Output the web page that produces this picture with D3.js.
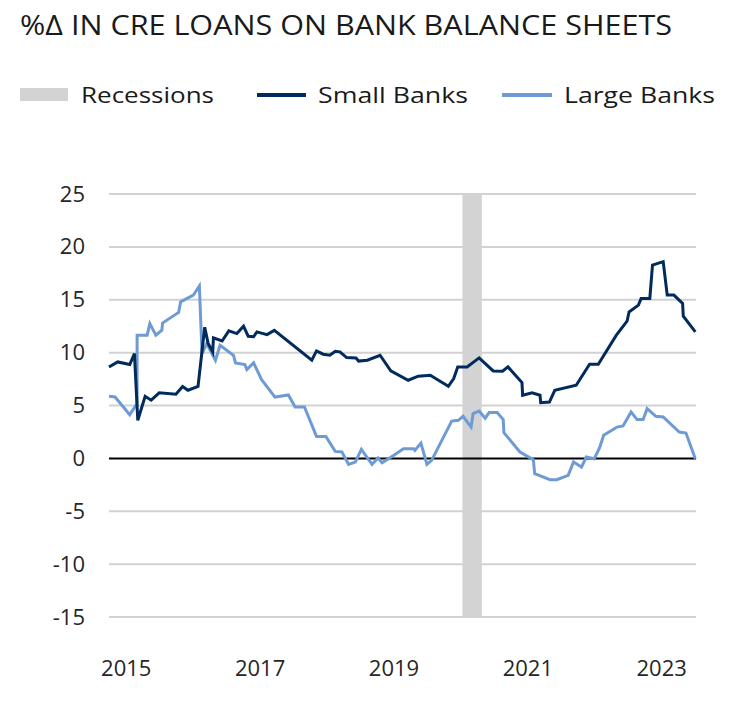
<!DOCTYPE html>
<html>
<head>
<meta charset="utf-8">
<script src="https://cdn.jsdelivr.net/npm/d3@7"></script>
<style>
  body { margin: 0; background: #fff; }
  svg { display: block; font-family: "Open Sans", "DejaVu Sans", sans-serif; }
</style>
</head>
<body>
<div id="chart"></div>
<script>
// year over year % change (decimal years)
var smallDates = [2014.75, 2014.88, 2015.06, 2015.13, 2015.18, 2015.29, 2015.38, 2015.50, 2015.75, 2015.85,
  2015.93, 2016.08, 2016.18, 2016.23, 2016.30, 2016.31, 2016.44, 2016.54, 2016.66, 2016.76,
  2016.83, 2016.91, 2016.96, 2017.11, 2017.22, 2017.78, 2017.85, 2017.95, 2018.05, 2018.13,
  2018.20, 2018.30, 2018.44, 2018.48, 2018.61, 2018.80, 2018.96, 2019.22, 2019.37, 2019.55,
  2019.82, 2019.90, 2019.96, 2020.10, 2020.28, 2020.49, 2020.63, 2020.71, 2020.92, 2020.93,
  2021.07, 2021.19, 2021.20, 2021.33, 2021.41, 2021.73, 2021.93, 2022.06, 2022.33, 2022.49,
  2022.52, 2022.66, 2022.70, 2022.83, 2022.87, 2023.03, 2023.09, 2023.19, 2023.32, 2023.33,
  2023.51];
var smallValues = [8.64, 9.12, 8.87, 9.9, 3.6, 5.87, 5.5, 6.2, 6.06, 6.8,
  6.44, 6.8, 12.4, 10.9, 10.07, 11.4, 11.1, 12.06, 11.8, 12.5,
  11.55, 11.5, 11.96, 11.7, 12.1, 9.28, 10.16, 9.85, 9.75, 10.13,
  10.07, 9.53, 9.5, 9.2, 9.28, 9.75, 8.27, 7.39, 7.77, 7.86,
  6.82, 7.55, 8.65, 8.65, 9.5, 8.27, 8.24, 8.65, 7.17, 5.97,
  6.19, 5.97, 5.27, 5.33, 6.44, 6.91, 8.9, 8.9, 11.65, 12.97,
  13.85, 14.49, 15.12, 15.12, 18.28, 18.6, 15.44, 15.44, 14.65, 13.45,
  11.96];

var largeDates = [2014.75, 2014.84, 2015.06, 2015.17, 2015.17, 2015.32, 2015.36, 2015.45, 2015.54, 2015.55,
  2015.79, 2015.82, 2016.01, 2016.10, 2016.14, 2016.21, 2016.34, 2016.41, 2016.61, 2016.64,
  2016.78, 2016.81, 2016.91, 2017.03, 2017.23, 2017.43, 2017.53, 2017.67, 2017.85, 2017.99,
  2018.13, 2018.23, 2018.33, 2018.43, 2018.52, 2018.68, 2018.77, 2018.83, 2019.00, 2019.15,
  2019.30, 2019.32, 2019.41, 2019.50, 2019.57, 2019.87, 2019.97, 2020.04, 2020.16, 2020.19,
  2020.28, 2020.37, 2020.43, 2020.55, 2020.64, 2020.65, 2020.89, 2021.09, 2021.11, 2021.34,
  2021.44, 2021.61, 2021.69, 2021.81, 2021.88, 2022.00, 2022.08, 2022.14, 2022.34, 2022.43,
  2022.55, 2022.64, 2022.73, 2022.79, 2022.92, 2023.03, 2023.27, 2023.37, 2023.51];
var largeValues = [5.87, 5.8, 4.13, 5.18, 11.65, 11.65, 12.75, 11.65, 12.12, 12.8,
  13.8, 14.8, 15.43, 16.3, 9.9, 10.86, 9.28, 10.7, 9.75, 9.03,
  8.87, 8.4, 9.03, 7.45, 5.8, 6.0, 4.86, 4.86, 2.08, 2.08,
  0.66, 0.6, -0.57, -0.35, 0.85, -0.57, 0.03, -0.41, 0.28, 0.92,
  0.92, 0.76, 1.45, -0.57, -0.19, 3.53, 3.6, 3.98, 2.96, 4.23,
  4.48, 3.8, 4.33, 4.33, 3.67, 2.43, 0.6, -0.12, -1.45, -2.02,
  -2.02, -1.61, -0.35, -0.82, 0.13, -0.03, 1.01, 2.18, 2.96, 3.06,
  4.39, 3.67, 3.67, 4.7, 3.98, 3.91, 2.49, 2.4, -0.03];

var recessions = [[2020.03, 2020.32]];
var yTicks = [-15, -10, -5, 0, 5, 10, 15, 20, 25];
var xTicks = [2015, 2017, 2019, 2021, 2023];

var width = 742, height = 706;
var svg = d3.select("#chart").append("svg")
  .attr("width", width)
  .attr("height", height);

var x = d3.scaleLinear().domain([2014.75, 2023.52]).range([109, 696]);
var y = d3.scaleLinear().domain([-15, 25]).range([617, 194]);

// title
svg.append("text")
  .attr("x", 20).attr("y", 35)
  .attr("textLength", 652).attr("lengthAdjust", "spacingAndGlyphs")
  .style("font-size", "27px").style("fill", "#1a1a1a")
  .text("%Δ IN CRE LOANS ON BANK BALANCE SHEETS");

// legend
var legend = svg.append("g");
legend.append("rect").attr("x", 20).attr("y", 88).attr("width", 48).attr("height", 13).attr("fill", "#d3d3d3");
legend.append("text").attr("x", 81).attr("y", 103).attr("textLength", 133).attr("lengthAdjust", "spacingAndGlyphs")
  .style("font-size", "22px").style("fill", "#1a1a1a").text("Recessions");
legend.append("line").attr("x1", 257).attr("x2", 306).attr("y1", 95).attr("y2", 95)
  .attr("stroke", "#002b5c").attr("stroke-width", 4);
legend.append("text").attr("x", 318).attr("y", 103).attr("textLength", 150).attr("lengthAdjust", "spacingAndGlyphs")
  .style("font-size", "22px").style("fill", "#1a1a1a").text("Small Banks");
legend.append("line").attr("x1", 502).attr("x2", 552).attr("y1", 95).attr("y2", 95)
  .attr("stroke", "#6f9bd5").attr("stroke-width", 4);
legend.append("text").attr("x", 564).attr("y", 103).attr("textLength", 151).attr("lengthAdjust", "spacingAndGlyphs")
  .style("font-size", "22px").style("fill", "#1a1a1a").text("Large Banks");

// gridlines
svg.append("g").selectAll("line")
  .data(yTicks.filter(function(d){ return d !== 0; }))
  .enter().append("line")
    .attr("x1", x.range()[0]).attr("x2", x.range()[1])
    .attr("y1", function(d){ return y(d); }).attr("y2", function(d){ return y(d); })
    .attr("stroke", "#d2d2d2").attr("stroke-width", 2);

// recession bands
svg.append("g").selectAll("rect")
  .data(recessions)
  .enter().append("rect")
    .attr("x", function(d){ return x(d[0]); })
    .attr("width", function(d){ return x(d[1]) - x(d[0]); })
    .attr("y", y(25)).attr("height", y(-15) - y(25))
    .attr("fill", "#d3d3d3");

// zero line
svg.append("line")
  .attr("x1", x.range()[0]).attr("x2", x.range()[1])
  .attr("y1", y(0)).attr("y2", y(0))
  .attr("stroke", "#000").attr("stroke-width", 2);

// y axis labels (plain hyphen like the original, not the unicode minus)
var yAxis = d3.axisLeft(y).tickValues(yTicks).tickSize(0).tickPadding(24)
  .tickFormat(function(d){ return String(d); });
svg.append("g").attr("transform", "translate(" + x.range()[0] + ",0)").call(yAxis)
  .call(function(g){ g.select(".domain").remove(); })
  .selectAll("text").style("font-size", "22px").style("fill", "#262626")
  .style("font-family", "\"Open Sans\", sans-serif");

// x axis labels
var xAxis = d3.axisBottom(x).tickValues(xTicks).tickFormat(function(d){ return String(d); })
  .tickSize(0).tickPadding(0);
svg.append("g").attr("transform", "translate(0,660)").call(xAxis)
  .call(function(g){ g.select(".domain").remove(); })
  .selectAll("text").style("font-size", "22px").style("fill", "#262626")
  .style("font-family", "\"Open Sans\", sans-serif");

// series
var line = d3.line()
  .x(function(d){ return x(d[0]); })
  .y(function(d){ return y(d[1]); });

var series = [
  { name: "Large Banks", color: "#6f9bd5", points: d3.zip(largeDates, largeValues) },
  { name: "Small Banks", color: "#002b5c", points: d3.zip(smallDates, smallValues) }
];

svg.append("g").selectAll("path")
  .data(series)
  .enter().append("path")
    .attr("d", function(d){ return line(d.points); })
    .attr("fill", "none")
    .attr("stroke", function(d){ return d.color; })
    .attr("stroke-width", 3)
    .attr("stroke-linejoin", "miter");
</script>
</body>
</html>
